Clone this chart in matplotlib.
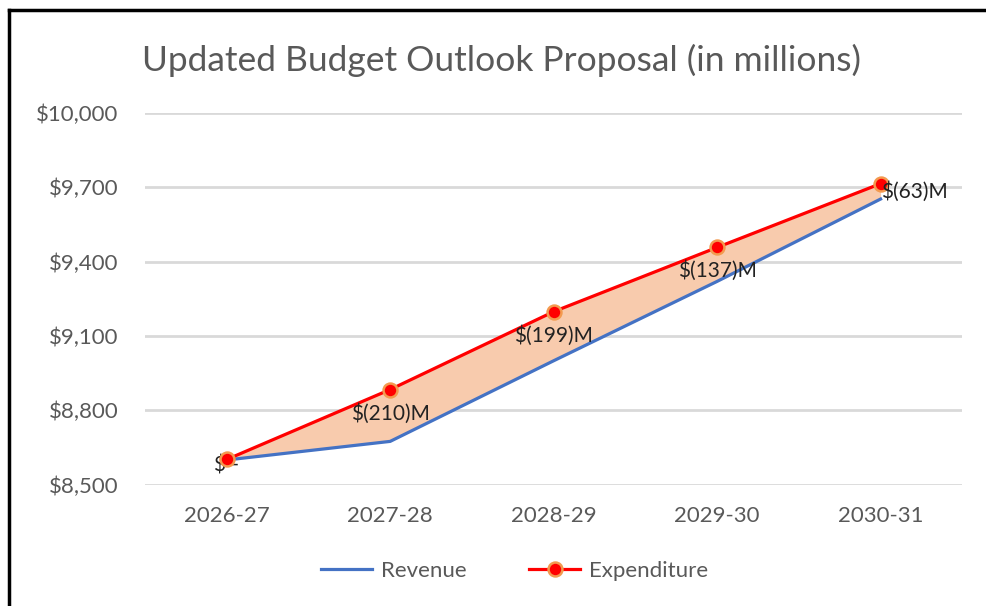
import matplotlib.pyplot as plt
from matplotlib.lines import Line2D

years = ["2026-27", "2027-28", "2028-29", "2029-30", "2030-31"]
revenue = [8600, 8675, 9000, 9320, 9652]
expenditure = [8602, 8884, 9198, 9457, 9714]
gap_labels = ["$ -", "$(210)M", "$(199)M", "$(137)M", "$(63)M"]
yticks = [8500, 8800, 9100, 9400, 9700, 10000]

plt.rcParams['font.family'] = ['Lato', 'DejaVu Sans']
grey = "#595959"

fig = plt.figure(figsize=(9.86, 6.06), dpi=100)
ax = fig.add_axes([0.147, 0.2, 0.829, 0.614])

x = list(range(len(years)))
ax.fill_between(x, revenue, expenditure, color="#F8CBAD", zorder=1, linewidth=0)
ax.plot(x, revenue, color="#4472C4", linewidth=2.3, zorder=3)
ax.plot(x, expenditure, color="#FF0000", linewidth=2.3, zorder=4,
        marker="o", markersize=10, markerfacecolor="#FF0000",
        markeredgecolor="#F39A4F", markeredgewidth=1.8)

for i, lab in enumerate(gap_labels):
    if i == len(gap_labels) - 1:
        ax.annotate(lab, (x[i], expenditure[i]), xytext=(0, -6), textcoords="offset points",
                    ha="left", va="center", fontsize=15, color="#222222", zorder=5)
    elif i == 0:
        ax.annotate(lab, (x[i], expenditure[i]), xytext=(0, -4), textcoords="offset points",
                    ha="center", va="center", fontsize=15, color="#222222", zorder=2)
    else:
        ax.annotate(lab, (x[i], expenditure[i]), xytext=(0, -17), textcoords="offset points",
                    ha="center", va="center", fontsize=15, color="#222222", zorder=5)

ax.set_xlim(-0.5, len(years) - 0.5)
ax.set_ylim(8500, 10000)
ax.set_xticks(x)
ax.set_xticklabels(years)
ax.set_yticks(yticks)
ax.set_yticklabels([f"${v:,}" for v in yticks])
ax.tick_params(length=0, labelsize=16, labelcolor=grey)
ax.tick_params(axis="y", pad=19)
ax.tick_params(axis="x", pad=15)
ax.grid(axis="y", color="#D9D9D9", linewidth=2)
ax.set_axisbelow(True)
for s in ax.spines.values():
    s.set_visible(False)

fig.text(0.509, 0.9, "Updated Budget Outlook Proposal (in millions)",
         ha="center", va="center", fontsize=25.5, color=grey)

handles = [
    Line2D([], [], color="#4472C4", linewidth=2.3),
    Line2D([], [], color="#FF0000", linewidth=2.3, marker="o", markersize=10,
           markerfacecolor="#FF0000", markeredgecolor="#F39A4F", markeredgewidth=1.8),
]
leg = fig.legend(handles, ["Revenue", "Expenditure"], loc="center", bbox_to_anchor=(0.522, 0.058),
                 ncol=2, frameon=False, fontsize=16, handlelength=2.3, handletextpad=0.4,
                 columnspacing=2.8)
for t in leg.get_texts():
    t.set_color(grey)

# border of the chart box (top and left edges visible)
fig.add_artist(Line2D([0.009, 1.0], [0.983, 0.983], color="black", linewidth=2.5, transform=fig.transFigure))
fig.add_artist(Line2D([0.009, 0.009], [0.0, 0.983], color="black", linewidth=2.5, transform=fig.transFigure))

fig.savefig("out.png", dpi=100)
